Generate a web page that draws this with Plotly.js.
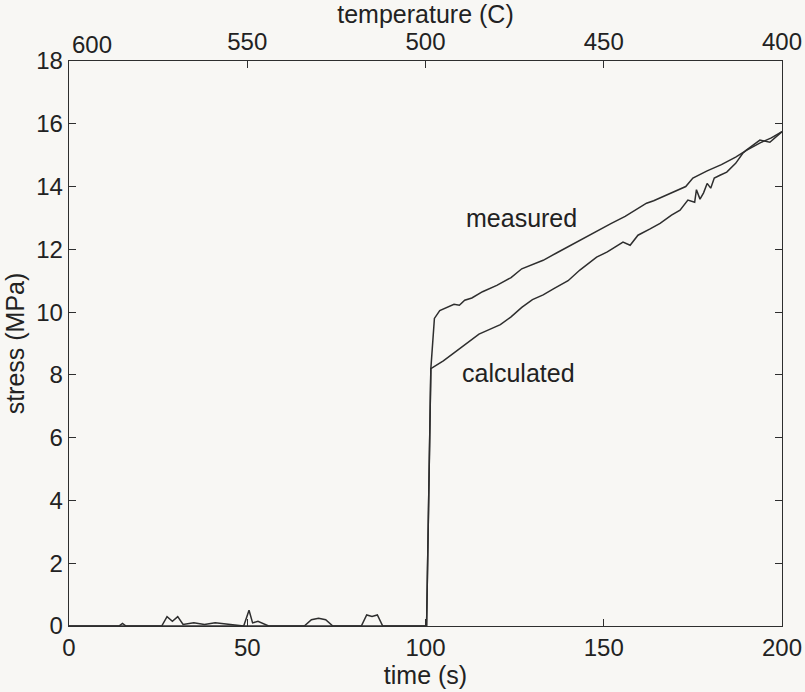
<!DOCTYPE html>
<html>
<head>
<meta charset="utf-8">
<script src="https://cdn.plot.ly/plotly-3.0.1.min.js"></script>
<style>
  html, body { margin: 0; padding: 0; background: #f8f7f4; }
  #chart { width: 805px; height: 692px; }
</style>
</head>
<body>
<div id="chart"></div>
<script>
// Measured stress history (MPa) against time (s)
const measuredTime = [0, 14, 15, 16, 26, 27.5, 29, 30.5, 32, 35, 38, 41, 49, 50.5, 51.5, 53, 56, 66, 68, 70, 72, 74, 82, 83.5, 85, 86.5, 88, 100.3,
  101.5, 102.5, 104, 106, 108, 109.5, 111, 113, 116, 120, 124, 127, 130, 133, 137, 141, 143.3, 145, 148.4, 152, 156, 160, 162, 164, 168, 171, 173, 175, 179, 183, 187, 190, 194, 197, 200];
const measuredStress = [0, 0, 0.08, 0, 0, 0.3, 0.15, 0.3, 0.05, 0.1, 0.05, 0.1, 0, 0.5, 0.1, 0.15, 0, 0, 0.2, 0.25, 0.2, 0, 0, 0.35, 0.3, 0.35, 0, 0,
  8.2, 9.8, 10.05, 10.15, 10.25, 10.22, 10.38, 10.45, 10.65, 10.85, 11.1, 11.38, 11.52, 11.65, 11.9, 12.15, 12.3, 12.4, 12.6, 12.82, 13.05, 13.33, 13.47, 13.55, 13.75, 13.92, 14.0, 14.27, 14.5, 14.7, 14.94, 15.15, 15.4, 15.55, 15.75];

// Calculated stress history (MPa) against time (s)
const calculatedTime = [0, 100.3, 101.5, 105, 108, 111.6, 115, 118, 121, 124, 127, 130, 133, 136, 140, 143.3, 148, 151, 155.4, 157.4, 159.6, 163, 165.8, 169, 171.4, 173.6,
  175.5, 176, 177, 178, 179, 180, 181, 182.6, 184.5, 187, 189, 190, 193.8, 196.6, 198.5, 200];
const calculatedStress = [0, 0, 8.2, 8.45, 8.7, 9.0, 9.3, 9.45, 9.6, 9.85, 10.15, 10.4, 10.55, 10.75, 11.0, 11.34, 11.75, 11.92, 12.23, 12.13, 12.45, 12.65, 12.83, 13.09, 13.25, 13.57,
  13.5, 13.9, 13.6, 13.8, 14.1, 13.95, 14.27, 14.36, 14.46, 14.74, 15.06, 15.16, 15.48, 15.41, 15.6, 15.75];

// Top axis: furnace temperature (C) at the same instants
const temperatureRange = [600, 400];
const temperatureTicks = [550, 500, 450, 400];
const temperatureFirst = 600;

const lineColor = '#2e2e2e';
const tickFont = { family: 'Liberation Sans, Arial, sans-serif', size: 24, color: '#222' };
const labelFont = { family: 'Liberation Sans, Arial, sans-serif', size: 25, color: '#222' };

const traces = [
  { x: measuredTime, y: measuredStress, type: 'scatter', mode: 'lines',
    line: { color: lineColor, width: 1.5 }, hoverinfo: 'skip', showlegend: false },
  { x: calculatedTime, y: calculatedStress, type: 'scatter', mode: 'lines',
    line: { color: lineColor, width: 1.5 }, hoverinfo: 'skip', showlegend: false },
  // carrier for the temperature axis, not visible
  { x: temperatureRange, y: [0, 0], xaxis: 'x2', type: 'scatter', mode: 'lines',
    line: { width: 0 }, opacity: 0, hoverinfo: 'skip', showlegend: false }
];

const axisCommon = {
  showgrid: false, zeroline: false, showline: true, linecolor: lineColor, linewidth: 1.3,
  ticks: 'inside', ticklen: 7, tickwidth: 1.2, tickcolor: lineColor, tickfont: tickFont
};

const layout = {
  width: 805, height: 692,
  margin: { l: 69, r: 23, t: 61, b: 66 },
  paper_bgcolor: '#f8f7f4', plot_bgcolor: '#f8f7f4',
  font: tickFont,
  xaxis: Object.assign({}, axisCommon, {
    range: [0, 200], tickvals: [0, 50, 100, 150, 200], mirror: 'ticks',
    title: { text: 'time (s)', font: labelFont, standoff: 2 }
  }),
  xaxis2: Object.assign({}, axisCommon, {
    overlaying: 'x', side: 'top', anchor: 'y', range: temperatureRange, tickvals: temperatureTicks,
    title: { text: 'temperature (C)', font: labelFont, standoff: 2 }
  }),
  yaxis: Object.assign({}, axisCommon, {
    range: [0, 18], dtick: 2, mirror: 'ticks',
    title: { text: 'stress (MPa)', font: labelFont, standoff: 4 }
  }),
  annotations: [
    // first temperature label sits just right of the corner, clear of the "18"
    { x: temperatureFirst, y: 1, xref: 'x2', yref: 'paper', text: String(temperatureFirst),
      xanchor: 'left', yanchor: 'bottom', xshift: 1, yshift: 1, showarrow: false, font: tickFont },
    { x: 127, y: 13.0, xref: 'x', yref: 'y', text: 'measured', showarrow: false, font: labelFont },
    { x: 126, y: 8.06, xref: 'x', yref: 'y', text: 'calculated', showarrow: false, font: labelFont }
  ]
};

Plotly.newPlot('chart', traces, layout, { staticPlot: true, displayModeBar: false });
</script>
</body>
</html>
